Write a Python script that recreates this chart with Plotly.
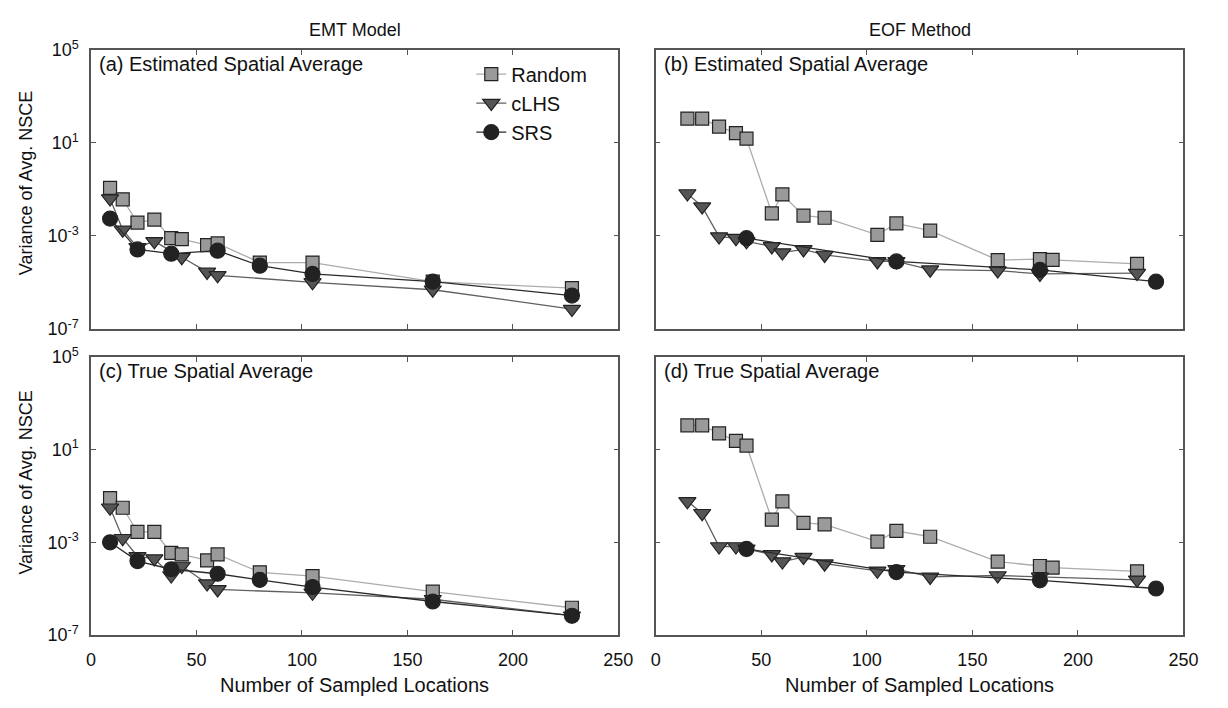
import plotly.graph_objects as go

# ---------------- data ----------------
# Panel (a) EMT model, estimated spatial average
a_random_x = [9, 15, 22, 30, 38, 43, 55, 60, 80, 105, 162, 228]
a_random_y = [0.115, 0.037, 3.7e-3, 5.0e-3, 7.9e-4, 7.2e-4, 4.0e-4, 4.7e-4, 7.1e-5, 7.1e-5, 1.07e-5, 5.6e-6]
a_clhs_x = [9, 15, 22, 30, 43, 55, 60, 105, 162, 228]
a_clhs_y = [0.04, 1.8e-3, 3.2e-4, 5.8e-4, 1.2e-4, 2.8e-5, 2.0e-5, 1.0e-5, 4.8e-6, 7.1e-7]
a_srs_x = [9, 22, 38, 60, 80, 105, 162, 228]
a_srs_y = [5.5e-3, 2.6e-4, 1.7e-4, 2.3e-4, 5.2e-5, 2.3e-5, 1.07e-5, 2.7e-6]

# Panel (b) EOF method, estimated spatial average
b_random_x = [15, 22, 30, 38, 43, 55, 60, 70, 80, 105, 114, 130, 162, 182, 188, 228]
b_random_y = [110, 110, 50, 26, 15, 9.3e-3, 6.0e-2, 7.4e-3, 6.0e-3, 1.1e-3, 3.4e-3, 1.66e-3,
              9.1e-5, 1.0e-4, 9.3e-5, 6.2e-5]
b_clhs_x = [15, 22, 30, 38, 43, 55, 60, 70, 80, 105, 114, 130, 162, 182, 228]
b_clhs_y = [0.066, 0.018, 9.3e-4, 7.9e-4, 5.8e-4, 3.5e-4, 1.9e-4, 2.6e-4, 1.5e-4, 7.9e-5, 7.9e-5,
            3.5e-5, 3.2e-5, 2.3e-5, 2.5e-5]
b_srs_x = [43, 114, 182, 237]
b_srs_y = [7.9e-4, 7.9e-5, 3.4e-5, 1.07e-5]

# Panel (c) EMT model, true spatial average
c_random_x = [9, 15, 22, 30, 38, 43, 55, 60, 80, 105, 162, 228]
c_random_y = [0.081, 0.031, 2.8e-3, 2.8e-3, 3.5e-4, 3.0e-4, 1.66e-4, 3.0e-4, 5.1e-5, 3.5e-5, 7.4e-6, 1.5e-6]
c_clhs_x = [9, 15, 22, 30, 38, 43, 55, 60, 105, 162, 228]
c_clhs_y = [0.031, 1.5e-3, 2.5e-4, 2.0e-4, 3.7e-5, 9.5e-5, 1.66e-5, 9.3e-6, 6.6e-6, 3.5e-6, 6.8e-7]
c_srs_x = [9, 22, 38, 60, 80, 105, 162, 228]
c_srs_y = [1.0e-3, 1.55e-4, 6.9e-5, 4.4e-5, 2.4e-5, 1.17e-5, 2.8e-6, 6.8e-7]

# Panel (d) EOF method, true spatial average
d_random_x = [15, 22, 30, 38, 43, 55, 60, 70, 80, 105, 114, 130, 162, 182, 188, 228]
d_random_y = [112, 112, 50, 24, 15, 9.5e-3, 0.059, 6.9e-3, 6.0e-3, 1.07e-3, 3.1e-3, 1.74e-3,
              1.48e-4, 9.5e-5, 8.1e-5, 5.6e-5]
d_clhs_x = [15, 22, 30, 38, 43, 55, 60, 70, 80, 105, 114, 130, 162, 182, 228]
d_clhs_y = [0.059, 0.018, 6.6e-4, 6.6e-4, 5.2e-4, 3.0e-4, 1.48e-4, 2.3e-4, 1.2e-4, 5.9e-5, 6.9e-5,
            3.2e-5, 3.7e-5, 3.2e-5, 2.4e-5]
d_srs_x = [43, 114, 182, 237]
d_srs_y = [5.2e-4, 5.2e-5, 2.3e-5, 1.02e-5]

series_names = ["Random", "cLHS", "SRS"]
panel_labels = ["(a) Estimated Spatial Average", "(b) Estimated Spatial Average",
                "(c) True Spatial Average", "(d) True Spatial Average"]
column_titles = ["EMT Model", "EOF Method"]
y_title = "Variance of Avg. NSCE"
x_title = "Number of Sampled Locations"
y_tickvals = [1e-7, 1e-3, 1e1, 1e5]
y_ticktext = ["10<sup>-7</sup>", "10<sup>-3</sup>", "10<sup>1</sup>", "10<sup>5</sup>"]
x_tickvals = [0, 50, 100, 150, 200, 250]

# ---------------- layout ----------------
W, H = 1228, 708
FONT = "Arial, Liberation Sans, sans-serif"

def px_x(p):
    return p / W

def px_y(p):
    return 1 - p / H

x_domains = [[px_x(87.5), px_x(623.5)], [px_x(661.5), px_x(1198)]]
y_domains = [[px_y(327), px_y(39)], [px_y(643), px_y(356)]]

styles = {
    "Random": dict(symbol="square", size=13, fill="#9a9a9a", line="#acacac", lw=1.3),
    "cLHS": dict(symbol="triangle-down", size=15, fill="#555555", line="#606060", lw=1.3),
    "SRS": dict(symbol="circle", size=15, fill="#222222", line="#2a2a2a", lw=1.3),
}

panels = [
    (a_random_x, a_random_y, a_clhs_x, a_clhs_y, a_srs_x, a_srs_y),
    (b_random_x, b_random_y, b_clhs_x, b_clhs_y, b_srs_x, b_srs_y),
    (c_random_x, c_random_y, c_clhs_x, c_clhs_y, c_srs_x, c_srs_y),
    (d_random_x, d_random_y, d_clhs_x, d_clhs_y, d_srs_x, d_srs_y),
]

fig = go.Figure()
layout = dict(
    width=W, height=H,
    margin=dict(l=0, r=0, t=0, b=0),
    paper_bgcolor="white", plot_bgcolor="white",
    font=dict(family=FONT, size=18, color="#111111"),
    showlegend=True,
    legend=dict(x=px_x(474), y=px_y(44), xanchor="left", yanchor="top",
                bgcolor="rgba(0,0,0,0)", font=dict(size=20, family=FONT),
                tracegroupgap=0),
    annotations=[],
)

for i, pdata in enumerate(panels):
    row, col = divmod(i, 2)
    ax = "" if i == 0 else str(i + 1)
    xa, ya = "x" + ax, "y" + ax
    for k, name in enumerate(series_names):
        s = styles[name]
        fig.add_trace(go.Scatter(
            x=pdata[2 * k], y=pdata[2 * k + 1], mode="lines+markers", name=name,
            xaxis=xa, yaxis=ya, showlegend=(i == 0),
            line=dict(color=s["line"], width=s["lw"]),
            marker=dict(symbol=s["symbol"], size=s["size"], color=s["fill"],
                        line=dict(color="#222222", width=1.2)),
        ))
    common = dict(showline=True, linecolor="#555555", linewidth=1.5, mirror="ticks",
                  ticks="inside", ticklen=5, tickcolor="#555555", tickwidth=1.2,
                  showgrid=False, zeroline=False, tickfont=dict(size=18, family=FONT))
    layout["xaxis" + ax] = dict(common, domain=x_domains[col], range=[0, 250],
                                tickvals=x_tickvals, showticklabels=(row == 1),
                                ticklabelstandoff=8, anchor=ya)
    layout["yaxis" + ax] = dict(common, domain=y_domains[row], type="log", range=[-7, 5],
                                tickvals=y_tickvals, ticktext=y_ticktext,
                                showticklabels=(col == 0), ticklabelstandoff=7, anchor=xa)
    layout["annotations"].append(dict(
        text=panel_labels[i], xref=xa + " domain", yref=ya + " domain",
        x=0.012, y=0.996, xanchor="left", yanchor="top", showarrow=False,
        font=dict(size=20, family=FONT)))

for col in range(2):
    cx = (x_domains[col][0] + x_domains[col][1]) / 2
    layout["annotations"].append(dict(text=column_titles[col], xref="paper", yref="paper",
                                      x=cx, y=px_y(19), xanchor="center", yanchor="middle",
                                      showarrow=False, font=dict(size=18, family=FONT)))
    layout["annotations"].append(dict(text=x_title, xref="paper", yref="paper",
                                      x=cx, y=px_y(695), xanchor="center", yanchor="middle",
                                      showarrow=False, font=dict(size=20, family=FONT)))
for row, cy_px in enumerate([177, 486]):
    layout["annotations"].append(dict(text=y_title, xref="paper", yref="paper",
                                      x=px_x(21), y=px_y(cy_px), xanchor="center", yanchor="middle",
                                      textangle=-90, showarrow=False,
                                      font=dict(size=18, family=FONT)))

fig.update_layout(**layout)
fig.write_html("out.html",
               post_script="document.body.style.margin='0';document.body.style.padding='0';")
